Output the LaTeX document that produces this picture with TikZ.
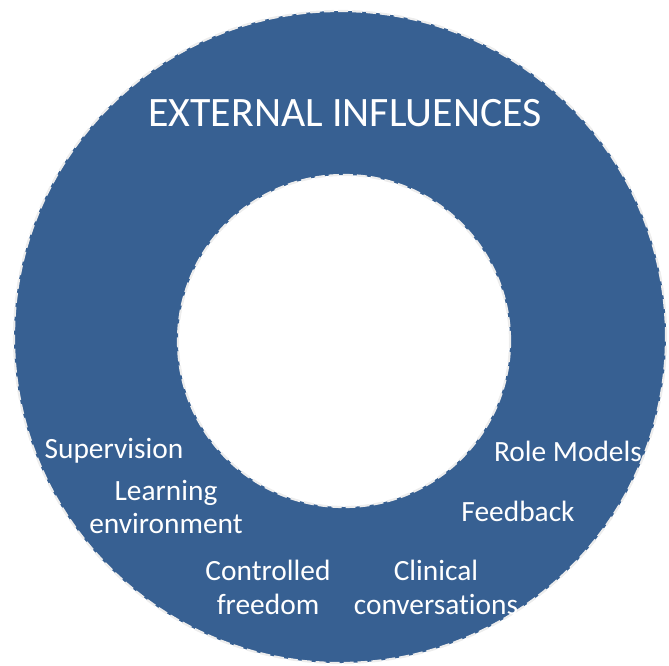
\documentclass[tikz,border=0pt]{standalone}
\usepackage{fontspec}
\setmainfont[Ligatures=NoCommon]{Carlito}
\definecolor{ringblue}{HTML}{376092}
\definecolor{dashgray}{HTML}{EDEDED}
\begin{document}
\begin{tikzpicture}[x=1bp,y=-1bp,
  ringedge/.style={draw=dashgray,line width=2.2bp,dash pattern=on 10bp off 4bp},
  lbl/.style={text=white,font=\fontsize{29.5}{34}\selectfont,align=center,inner sep=0pt},
  titlelbl/.style={text=white,font=\fontsize{42}{48}\selectfont,inner sep=0pt}]
\useasboundingbox (0,0) rectangle (669,666);
\fill[ringblue,even odd rule] (340,337) circle (326bp) (344,341) circle (166bp);
\draw[ringedge] (340,337) circle (326bp);
\draw[ringedge] (344,341) circle (166bp);
\node[titlelbl] (title) at (345,113) {EXTERNAL INFLUENCES};
\node[lbl] (sup) at (114,451) {Supervision};
\node[lbl] (learn) at (166,507) {Learning\\environment};
\node[lbl] (ctrl) at (268,587) {Controlled\\freedom};
\node[lbl] (clin) at (436,587) {Clinical\\conversations};
\node[lbl] (feed) at (518,511) {Feedback};
\node[lbl] (role) at (568,451) {Role Models};
\end{tikzpicture}
\end{document}
